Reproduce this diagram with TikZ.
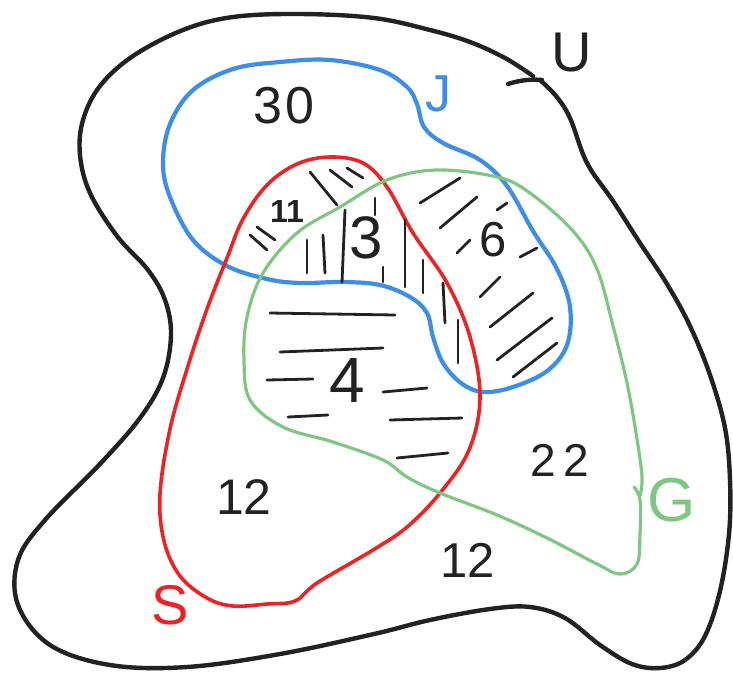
\documentclass[tikz,border=0pt]{standalone}
\usepackage{fontspec}
\setmainfont{Liberation Sans}
\definecolor{ublack}{HTML}{222222}
\definecolor{jblue}{HTML}{3C8EE8}
\definecolor{sred}{HTML}{EE2222}
\definecolor{ggreen}{HTML}{80C683}
\begin{document}
\begin{tikzpicture}[x=1pt,y=-1pt, line cap=round, line join=round,
  outline/.style={line width=4.4pt, draw=ublack},
  setj/.style={line width=4.2pt, draw=jblue},
  sets/.style={line width=3.6pt, draw=sred},
  setg/.style={line width=3.2pt, draw=ggreen},
  hatch/.style={line width=2.8pt, draw=ublack},
  lbl/.style={inner sep=0pt, text=ublack}]
\useasboundingbox (0,0) rectangle (733,673);

% universe U
\draw[outline] plot[smooth, tension=0.6] coordinates {(540,80) (556,96) (570,118) (587,163) (613,201) (640,243) (667,284) (690,326) (710,375) (725,428) (730,480) (729,534) (720,591) (705,636) (685,660) (660,668) (632,664) (600,645) (565,618) (530,607) (490,609) (430,620) (374,634) (280,654) (187,667) (110,665) (50,645) (18,605) (18,560) (45,520) (100,464) (140,418) (163,378) (171,335) (165,300) (148,270) (117,236) (90,193) (80,155) (83,120) (100,86) (133,56) (183,30) (233,17) (300,14) (374,18) (430,30) (470,42) (505,58) (533,76)};
\draw[outline] (508,84) .. controls (520,80) and (532,79) .. (542,80);

% set J
\draw[setj] plot[smooth cycle, tension=0.6] coordinates {(233,69) (280,62) (330,60) (380,70) (407,87) (417,104) (424,127) (443,143) (480,160) (507,186) (533,231) (557,269) (570,307) (567,345) (547,371) (513,387) (483,392) (461,383) (443,363) (433,337) (427,313) (410,297) (380,285) (343,282) (300,283) (267,279) (227,266) (193,240) (170,197) (163,163) (170,124) (193,90)};

% set S
\draw[sets] plot[smooth cycle, tension=0.6] coordinates {(330,157) (363,163) (387,187) (413,233) (447,283) (470,337) (480,397) (469,450) (440,493) (407,527) (373,550) (317,583) (295,601) (267,604) (233,606) (207,598) (180,576) (164,541) (160,494) (170,429) (187,369) (207,309) (227,258) (243,219) (267,185) (297,164)};

% set G
\draw[setg] plot[smooth, tension=0.6] coordinates {(634,487) (640,500) (640,534) (637,564) (620,574) (597,564) (547,538) (497,515) (440,493) (407,477) (383,460) (333,442) (283,427) (250,400) (244,360) (247,317) (263,273) (297,233) (340,207) (387,180) (437,170) (497,177) (530,193) (573,231) (597,269) (613,326) (627,383) (637,439) (642,477) (640,496)};

% hatching: region 11
\draw[hatch] (310,172) -- (337,205);
\draw[hatch] (330,170) -- (352,187);
\draw[hatch] (347,168) -- (363,178);
\draw[hatch] (250,235) -- (267,250);
\draw[hatch] (257,227) -- (275,240);
% region 3
\draw[hatch] (307,240) -- (307,273);
\draw[hatch] (323,235) -- (325,273);
\draw[hatch] (345,210) -- (342,282);
\draw[hatch] (375,198) -- (375,215);
\draw[hatch] (405,220) -- (405,287);
\draw[hatch] (383,267) -- (383,282);
\draw[hatch] (423,260) -- (423,293);
\draw[hatch] (443,283) -- (445,323);
\draw[hatch] (458,320) -- (458,363);
% region 6
\draw[hatch] (420,203) -- (460,178);
\draw[hatch] (440,228) -- (477,197);
\draw[hatch] (457,253) -- (470,240);
\draw[hatch] (497,210) -- (507,203);
\draw[hatch] (520,257) -- (537,248);
\draw[hatch] (480,297) -- (500,277);
\draw[hatch] (490,327) -- (533,293);
\draw[hatch] (497,360) -- (552,318);
\draw[hatch] (513,377) -- (557,343);
% region 4
\draw[hatch] (270,313) -- (395,315);
\draw[hatch] (280,352) -- (383,348);
\draw[hatch] (267,380) -- (313,379);
\draw[hatch] (383,392) -- (427,388);
\draw[hatch] (288,417) -- (328,415);
\draw[hatch] (390,420) -- (462,418);
\draw[hatch] (397,458) -- (448,453);

% set labels
\node[lbl, font=\fontsize{56}{56}\selectfont] (lU) at (572,53) {U};
\node[lbl, text=jblue, font=\fontsize{52}{52}\selectfont] (lJ) at (438,94) {J};
\node[lbl, text=sred, font=\fontsize{56}{56}\selectfont] (lS) at (170,605) {S};
\node[lbl, text=ggreen, font=\fontsize{62}{62}\selectfont] (lG) at (672,500) {G};

% counts
\node[lbl, font=\fontsize{52}{52}\selectfont] (n30) at (284,106) {3\kern3pt0};
\node[lbl, font=\fontsize{32}{32}\selectfont\bfseries] (n11) at (287,211) {11};
\node[lbl, font=\fontsize{60}{60}\selectfont] (n3) at (366,238) {3};
\node[lbl, font=\fontsize{49}{49}\selectfont] (n6) at (493,240) {6};
\node[lbl, font=\fontsize{64}{64}\selectfont] (n4) at (347,380) {4};
\node[lbl, font=\fontsize{46}{46}\selectfont] (n22) at (560,460) {2\kern8pt2};
\node[lbl, font=\fontsize{50}{50}\selectfont] (n12a) at (244,497) {12};
\node[lbl, font=\fontsize{49}{49}\selectfont] (n12b) at (468,560) {12};
\end{tikzpicture}
\end{document}
